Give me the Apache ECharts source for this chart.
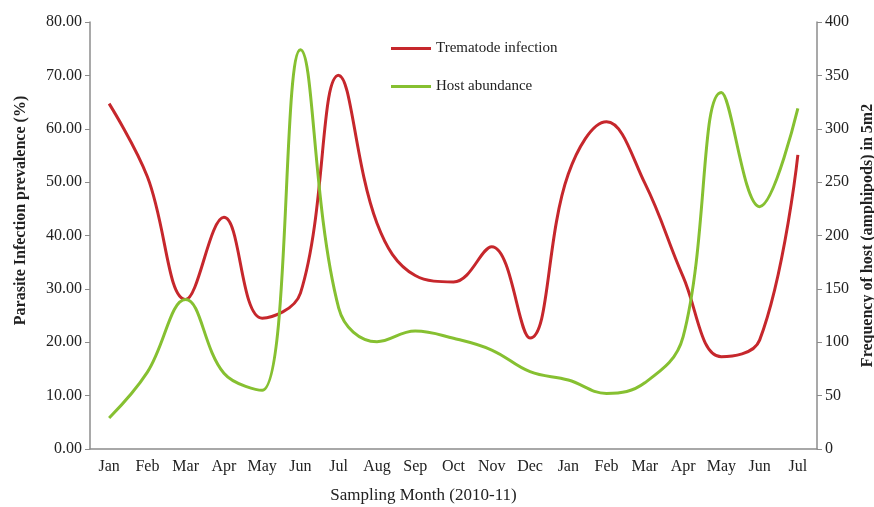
<!DOCTYPE html>
<html>
<head>
<meta charset="utf-8">
<script src="https://cdn.jsdelivr.net/npm/echarts@6/dist/echarts.min.js"></script>
<style>
  html, body { margin: 0; padding: 0; background: #fff; }
  #chart { width: 874px; height: 507px; }
</style>
</head>
<body>
<div id="chart"></div>
<script>
const months = ["Jan", "Feb", "Mar", "Apr", "May", "Jun", "Jul", "Aug", "Sep", "Oct",
  "Nov", "Dec", "Jan", "Feb", "Mar", "Apr", "May", "Jun", "Jul"];
// % prevalence, left axis
const trematode = [64.7, 51, 28, 43.4, 24.5, 29.2, 70, 42.3, 32.5, 31.3,
  37.9, 20.8, 51.5, 61.3, 49.8, 32.3, 17.3, 20.4, 55.1];
// amphipods per 5m2, right axis
const hostAbundance = [29, 72, 140, 71, 55, 374, 132, 100.5, 110.5, 103.7,
  92.7, 72.4, 64.6, 52, 62, 105, 334, 227, 319];

const RED = "#c6272c";
const GREEN = "#86c031";
const AXIS = "#8c8c8c";
const FONT = "'Liberation Serif', 'Times New Roman', serif";

const chart = echarts.init(document.getElementById("chart"), null, { renderer: "canvas" });

chart.setOption({
  animation: false,
  backgroundColor: "#fff",
  textStyle: { fontFamily: FONT, color: "#222" },
  grid: { left: 90, right: 57, top: 22, bottom: 58, outerBoundsMode: "none", containLabel: false },
  legend: {
    orient: "vertical",
    left: 386,
    top: 36,
    itemGap: 23,
    itemWidth: 40,
    itemHeight: 3,
    icon: "rect",
    textStyle: { fontFamily: FONT, fontSize: 15, color: "#222" },
    data: ["Trematode infection", "Host abundance"],
  },
  xAxis: {
    type: "category",
    data: months,
    name: "Sampling Month (2010-11)",
    nameLocation: "middle",
    nameGap: 38,
    nameTextStyle: { fontFamily: FONT, fontSize: 17, color: "#222", padding: [0, 60, 0, 0] },
    axisLine: { lineStyle: { color: AXIS, width: 1.5 } },
    axisTick: { lineStyle: { color: AXIS }, length: 5 },
    axisLabel: { fontFamily: FONT, fontSize: 16, color: "#222", interval: 0, margin: 10 },
    splitLine: { show: false },
  },
  yAxis: [
    {
      type: "value",
      min: 0,
      max: 80,
      interval: 10,
      name: "Parasite Infection prevalence (%)",
      nameLocation: "middle",
      nameGap: 61,
      nameTextStyle: {
        fontFamily: FONT, fontSize: 16, fontWeight: "bold", color: "#222",
        padding: [0, 0, 0, 50],
      },
      axisLine: { show: true, lineStyle: { color: AXIS, width: 1.5 } },
      axisTick: { show: true, lineStyle: { color: AXIS }, length: 5 },
      axisLabel: {
        fontFamily: FONT, fontSize: 16, color: "#222", margin: 8,
        formatter: (v) => v.toFixed(2),
      },
      splitLine: { show: false },
    },
    {
      type: "value",
      min: 0,
      max: 400,
      interval: 50,
      position: "right",
      name: "Frequency of host (amphipods) in 5m2",
      nameLocation: "middle",
      nameRotate: 90,
      nameGap: 43,
      nameTextStyle: { fontFamily: FONT, fontSize: 16, fontWeight: "bold", color: "#222" },
      axisLine: { show: true, lineStyle: { color: AXIS, width: 1.5 } },
      axisTick: { show: true, lineStyle: { color: AXIS }, length: 5 },
      axisLabel: { fontFamily: FONT, fontSize: 16, color: "#222", margin: 8 },
      splitLine: { show: false },
    },
  ],
  series: [
    {
      name: "Trematode infection",
      type: "line",
      yAxisIndex: 0,
      data: trematode,
      smooth: 0.4,
      symbol: "none",
      lineStyle: { color: RED, width: 3 },
      itemStyle: { color: RED },
    },
    {
      name: "Host abundance",
      type: "line",
      yAxisIndex: 1,
      data: hostAbundance,
      smooth: 0.4,
      symbol: "none",
      lineStyle: { color: GREEN, width: 3 },
      itemStyle: { color: GREEN },
    },
  ],
});
</script>
</body>
</html>
